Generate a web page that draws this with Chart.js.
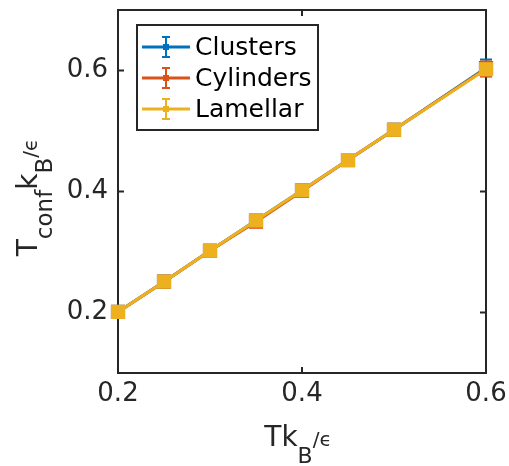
<!DOCTYPE html>
<html>
<head>
<meta charset="utf-8">
<script src="https://cdn.jsdelivr.net/npm/chart.js@4.4.0/dist/chart.umd.min.js"></script>
<style>
html, body { margin: 0; padding: 0; background: #fff; }
#wrap { width: 509px; height: 466px; }
</style>
</head>
<body>
<div id="wrap"><canvas id="tconfChart" width="509" height="466"></canvas></div>
<script>
// temperatures and measured configurational temperatures per phase
const temps = [0.2, 0.25, 0.3, 0.35, 0.4, 0.45, 0.5, 0.6];
const clusters = [0.201, 0.251, 0.302, 0.352, 0.402, 0.452, 0.502, 0.604];
const cylinders = [0.201, 0.251, 0.302, 0.350, 0.401, 0.452, 0.502, 0.603];
const lamellar = [0.201, 0.251, 0.302, 0.352, 0.402, 0.452, 0.502, 0.602];
const clustersErr = [0.002, 0.002, 0.003, 0.003, 0.004, 0.004, 0.005, 0.014];
const cylindersErr = [0.002, 0.002, 0.003, 0.003, 0.004, 0.004, 0.005, 0.012];
const lamellarErr = [0.002, 0.002, 0.003, 0.003, 0.004, 0.004, 0.005, 0.009];
const seriesNames = ['Clusters', 'Cylinders', 'Lamellar'];
const seriesColors = ['#0072BD', '#D95319', '#EDB120'];
const xTicks = [0.2, 0.4, 0.6];
const yTicks = [0.2, 0.4, 0.6];

const FONT = '"DejaVu Sans", "Liberation Sans", sans-serif';
const AXIS = '#262626';

function toPoints(ys) {
    return temps.map((t, i) => ({ x: t, y: ys[i] }));
}

function makeSeries(i, ys, errs) {
    return {
        label: seriesNames[i],
        data: toPoints(ys),
        errors: errs,
        borderColor: seriesColors[i],
        backgroundColor: seriesColors[i],
        borderWidth: 3,
        pointStyle: 'rect',
        pointRadius: 10,
        pointBorderWidth: 0,
        pointBackgroundColor: seriesColors[i],
        order: 3 - i,
        clip: false
    };
}

// no extra room for overflowing tick labels, the plot box is fixed by layout padding
function fixScale(s, size) {
    if (s.isHorizontal()) s.height = size; else s.width = size;
    s.paddingTop = 0; s.paddingBottom = 0; s.paddingLeft = 0; s.paddingRight = 0;
}

// box + inward ticks on all four sides
const axesBox = {
    id: 'axesBox',
    beforeDatasetsDraw(chart) {
        const { ctx, chartArea: a, scales } = chart;
        ctx.save();
        ctx.strokeStyle = AXIS;
        ctx.lineWidth = 2;
        ctx.strokeRect(a.left, a.top, a.right - a.left, a.bottom - a.top);
        const len = 6;
        ctx.beginPath();
        xTicks.forEach(v => {
            const px = scales.x.getPixelForValue(v);
            ctx.moveTo(px, a.bottom); ctx.lineTo(px, a.bottom - len);
            ctx.moveTo(px, a.top); ctx.lineTo(px, a.top + len);
        });
        yTicks.forEach(v => {
            const py = scales.y.getPixelForValue(v);
            ctx.moveTo(a.left, py); ctx.lineTo(a.left + len, py);
            ctx.moveTo(a.right, py); ctx.lineTo(a.right - len, py);
        });
        ctx.stroke();
        ctx.restore();
    }
};

// vertical error bars, drawn just under each series' own line and markers
const errorBars = {
    id: 'errorBars',
    beforeDatasetDraw(chart, args) {
        const ds = chart.data.datasets[args.index];
        if (!ds.errors) return;
        const { ctx, scales } = chart;
        const cap = 6;
        ctx.save();
        ctx.strokeStyle = ds.borderColor;
        ctx.lineWidth = 2;
        ctx.beginPath();
        ds.data.forEach((p, i) => {
            const x = scales.x.getPixelForValue(p.x);
            const y1 = scales.y.getPixelForValue(p.y + ds.errors[i]);
            const y2 = scales.y.getPixelForValue(p.y - ds.errors[i]);
            ctx.moveTo(x, y1); ctx.lineTo(x, y2);
            ctx.moveTo(x - cap, y1); ctx.lineTo(x + cap, y1);
            ctx.moveTo(x - cap, y2); ctx.lineTo(x + cap, y2);
        });
        ctx.stroke();
        ctx.restore();
    }
};

function drawRich(ctx, parts, x, y) {
    let total = 0;
    parts.forEach(p => {
        ctx.font = `${p.size}px ${FONT}`;
        p.w = ctx.measureText(p.t).width;
        total += p.w;
    });
    let cx = x - total / 2;
    parts.forEach(p => {
        ctx.font = `${p.size}px ${FONT}`;
        ctx.fillText(p.t, cx, y + (p.dy || 0));
        cx += p.w;
    });
}

const axisTitles = {
    id: 'axisTitles',
    afterDraw(chart) {
        const { ctx, chartArea: a } = chart;
        ctx.save();
        ctx.fillStyle = AXIS;
        ctx.textBaseline = 'alphabetic';
        ctx.textAlign = 'left';
        const midX = (a.left + a.right) / 2;
        drawRich(ctx, [
            { t: 'Tk', size: 28 },
            { t: 'B', size: 22, dy: 17 },
            { t: '/', size: 20 },
            { t: '\u03F5', size: 20 }
        ], midX - 4, 446);
        ctx.translate(37, (a.top + a.bottom) / 2 + 6);
        ctx.rotate(-Math.PI / 2);
        drawRich(ctx, [
            { t: 'T', size: 28 },
            { t: 'conf', size: 23, dy: 15 },
            { t: 'k', size: 28 },
            { t: 'B', size: 23, dy: 15 },
            { t: '/', size: 20 },
            { t: '\u03F5', size: 20 }
        ], 0, 0);
        ctx.restore();
    }
};

// legend with errorbar glyphs, placed inside the axes
const boxLegend = {
    id: 'boxLegend',
    afterDraw(chart) {
        const { ctx } = chart;
        const bx = 137, by = 25, bw = 181, bh = 105;
        ctx.save();
        ctx.fillStyle = '#fff';
        ctx.fillRect(bx, by, bw, bh);
        ctx.strokeStyle = AXIS;
        ctx.lineWidth = 2;
        ctx.strokeRect(bx, by, bw, bh);
        chart.data.datasets.forEach((ds, i) => {
            const cy = 47 + i * 31;
            const mx = 166;
            ctx.strokeStyle = ds.borderColor;
            ctx.lineWidth = 3;
            ctx.beginPath();
            ctx.moveTo(142, cy); ctx.lineTo(190, cy);
            ctx.stroke();
            ctx.lineWidth = 2;
            ctx.beginPath();
            ctx.moveTo(mx, cy - 10); ctx.lineTo(mx, cy + 10);
            ctx.moveTo(mx - 4, cy - 10); ctx.lineTo(mx + 4, cy - 10);
            ctx.moveTo(mx - 4, cy + 10); ctx.lineTo(mx + 4, cy + 10);
            ctx.stroke();
            ctx.fillStyle = ds.borderColor;
            ctx.fillRect(mx - 3, cy - 3, 6, 6);
            ctx.fillStyle = '#000';
            ctx.font = `25px ${FONT}`;
            ctx.textBaseline = 'middle';
            ctx.fillText(ds.label, 195, cy + 1);
        });
        ctx.restore();
    }
};

const ctx = document.getElementById('tconfChart').getContext('2d');
new Chart(ctx, {
    type: 'line',
    data: {
        datasets: [
            makeSeries(0, clusters, clustersErr),
            makeSeries(1, cylinders, cylindersErr),
            makeSeries(2, lamellar, lamellarErr)
        ]
    },
    options: {
        responsive: false,
        animation: false,
        devicePixelRatio: 1,
        layout: { padding: { left: 58, right: 23, top: 10, bottom: 33 } },
        plugins: { legend: { display: false }, tooltip: { enabled: false } },
        scales: {
            x: {
                type: 'linear', min: 0.2, max: 0.6,
                grid: { display: false, drawTicks: false },
                border: { display: false },
                afterBuildTicks: s => { s.ticks = xTicks.map(v => ({ value: v })); },
                afterFit: s => fixScale(s, 60),
                ticks: { color: AXIS, padding: 6, maxRotation: 0, font: { family: FONT, size: 26 }, callback: v => v.toFixed(1) }
            },
            y: {
                type: 'linear', min: 0.1, max: 0.7,
                grid: { display: false, drawTicks: false },
                border: { display: false },
                afterBuildTicks: s => { s.ticks = yTicks.map(v => ({ value: v })); },
                afterFit: s => fixScale(s, 60),
                ticks: { color: AXIS, padding: 10, font: { family: FONT, size: 26 }, callback: v => v.toFixed(1) }
            }
        }
    },
    plugins: [axesBox, errorBars, axisTitles, boxLegend]
});
</script>
</body>
</html>
